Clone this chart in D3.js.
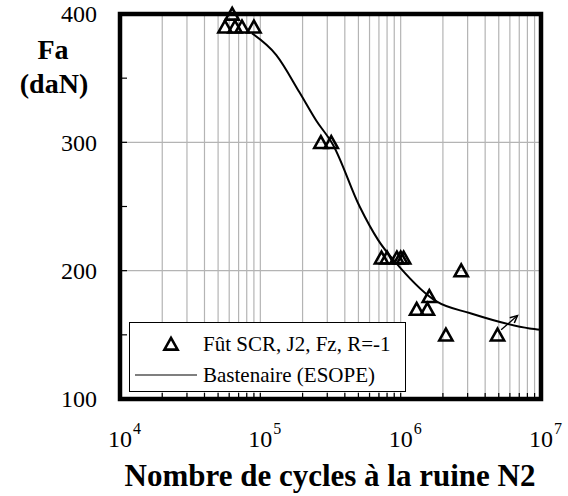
<!DOCTYPE html>
<html>
<head>
<meta charset="utf-8">
<script src="https://cdn.jsdelivr.net/npm/d3@7"></script>
<style>
  html, body { margin: 0; padding: 0; background: #fff; }
  svg { display: block; font-family: "Liberation Serif", "Times New Roman", serif; }
</style>
</head>
<body>
<svg id="chart" width="568" height="496"></svg>
<script>
// Fatigue test results: alternating load Fa (daN) vs cycles to failure N2
const testCycles = [5.6e4, 6.3e4, 6.6e4, 7.4e4, 9.0e4,
                    2.7e5, 3.2e5,
                    7.3e5, 8.0e5, 9.4e5, 1.0e6, 1.05e6,
                    2.7e6, 1.6e6, 1.3e6, 1.55e6, 2.1e6, 4.9e6];
const testLoads  = [390, 400, 390, 390, 390,
                    300, 300,
                    210, 210, 210, 210, 210,
                    200, 180, 170, 170, 150, 150];

// Bastenaire (ESOPE) fitted curve, points along the curve
const curveCycles = [8.7e4, 1.3e5, 1.9e5, 2.5e5, 3.3e5, 5.1e5, 6.9e5, 9.8e5, 1.8e6, 3.1e6, 8.3e6, 1.0e7];
const curveLoads  = [385, 368, 339, 317, 298, 250, 224, 203, 176, 167, 155, 154];

// Run-out arrow on the last specimen (not broken)
const runoutFrom = [5.2e6, 154];
const runoutTo   = [6.8e6, 165];

const xDomain = [1e4, 1e7];
const yDomain = [100, 400];
const yTicks = [100, 200, 300, 400];
const yMinorTicks = [150, 250, 350];
const xDecades = [4, 5, 6, 7];
const legendLabels = ["Fût SCR, J2, Fz, R=-1", "Bastenaire (ESOPE)"];

const svg = d3.select("#chart");
const pL = 120, pR = 541, pT = 14, pB = 399;

const x = d3.scaleLog().domain(xDomain).range([pL, pR]);
const y = d3.scaleLinear().domain(yDomain).range([pB, pT]);

// Vertical grid at every log step
const xGrid = [];
for (let e = 4; e < 7; e++) for (let m = 1; m <= 9; m++) xGrid.push(m * Math.pow(10, e));
const xInner = xGrid.filter(v => v > 1e4 && v < 1e7);

svg.append("g").selectAll("line").data(xInner).join("line")
  .attr("x1", d => x(d)).attr("x2", d => x(d))
  .attr("y1", pT).attr("y2", pB)
  .attr("stroke", "#b4b4b4").attr("stroke-width", 1.2);

svg.append("g").selectAll("line").data(yTicks.filter(v => v > 100 && v < 400)).join("line")
  .attr("x1", pL).attr("x2", pR)
  .attr("y1", d => y(d)).attr("y2", d => y(d))
  .attr("stroke", "#b4b4b4").attr("stroke-width", 1.2);

// Inner ticks
svg.append("g").selectAll("line").data(xInner).join("line")
  .attr("x1", d => x(d)).attr("x2", d => x(d))
  .attr("y1", pB).attr("y2", pB - 6)
  .attr("stroke", "#000").attr("stroke-width", 1.2);
svg.append("g").selectAll("line").data(yTicks.concat(yMinorTicks).filter(v => v > 100 && v < 400)).join("line")
  .attr("x1", pL).attr("x2", pL + 7)
  .attr("y1", d => y(d)).attr("y2", d => y(d))
  .attr("stroke", "#000").attr("stroke-width", 1.2);

// Bastenaire curve
const curvePts = curveCycles.map((c, i) => [x(c), y(curveLoads[i])]);
svg.append("path")
  .attr("d", d3.line().curve(d3.curveMonotoneX)(curvePts))
  .attr("fill", "none").attr("stroke", "#000").attr("stroke-width", 2);

// Triangles
const tri = "M0,-6.2 L6.6,5.6 L-6.6,5.6 Z";
svg.append("g").selectAll("path").data(testCycles.map((c, i) => [c, testLoads[i]])).join("path")
  .attr("transform", d => `translate(${x(d[0])},${y(d[1])})`)
  .attr("d", tri)
  .attr("fill", "none").attr("stroke", "#000").attr("stroke-width", 2.6)
  .attr("stroke-linejoin", "miter");

// Run-out arrow
const ax1 = x(runoutFrom[0]), ay1 = y(runoutFrom[1]);
const ax2 = x(runoutTo[0]), ay2 = y(runoutTo[1]);
svg.append("line").attr("x1", ax1).attr("y1", ay1).attr("x2", ax2).attr("y2", ay2)
  .attr("stroke", "#000").attr("stroke-width", 1.3);
const ang = Math.atan2(ay2 - ay1, ax2 - ax1);
const hl = 8, hw = 0.45;
svg.append("path")
  .attr("d", `M${ax2 - hl * Math.cos(ang - hw)},${ay2 - hl * Math.sin(ang - hw)} L${ax2},${ay2} L${ax2 - hl * Math.cos(ang + hw)},${ay2 - hl * Math.sin(ang + hw)}`)
  .attr("fill", "none").attr("stroke", "#000").attr("stroke-width", 1.5);

// Legend
const lg = svg.append("g");
lg.append("rect").attr("x", 129.5).attr("y", 322.5).attr("width", 276).attr("height", 69)
  .attr("fill", "#fff").attr("stroke", "#000").attr("stroke-width", 1);
lg.append("path").attr("transform", "translate(171,344)").attr("d", tri)
  .attr("fill", "none").attr("stroke", "#000").attr("stroke-width", 2.6);
lg.append("line").attr("x1", 135).attr("x2", 197).attr("y1", 375).attr("y2", 375)
  .attr("stroke", "#000").attr("stroke-width", 1.2);
lg.selectAll("text").data(legendLabels).join("text")
  .attr("x", 203).attr("y", (d, i) => 351 + i * 31)
  .attr("font-size", 21).text(d => d);

// Plot frame
svg.append("rect").attr("x", pL).attr("y", pT).attr("width", pR - pL).attr("height", pB - pT)
  .attr("fill", "none").attr("stroke", "#000").attr("stroke-width", 4.5);

// Y tick labels
svg.append("g").selectAll("text").data(yTicks).join("text")
  .attr("x", 97).attr("y", d => y(d)).attr("dy", "0.35em")
  .attr("text-anchor", "end").attr("font-size", 24).text(d => d);

// X tick labels 10^n
const xl = svg.append("g").selectAll("g").data(xDecades).join("g")
  .attr("transform", d => `translate(${x(Math.pow(10, d))},447)`);
xl.append("text").attr("text-anchor", "middle").attr("font-size", 24).text("10");
xl.append("text").attr("x", 13).attr("y", -13).attr("font-size", 16).text(d => d);

// Axis titles
svg.append("text").attr("x", 330).attr("y", 486).attr("text-anchor", "middle")
  .attr("font-size", 31).attr("font-weight", "bold").text("Nombre de cycles à la ruine N2");
svg.append("text").attr("x", 53).attr("y", 59).attr("text-anchor", "middle")
  .attr("font-size", 28).attr("font-weight", "bold").text("Fa");
svg.append("text").attr("x", 54).attr("y", 93).attr("text-anchor", "middle")
  .attr("font-size", 28).attr("font-weight", "bold").text("(daN)");
</script>
</body>
</html>
